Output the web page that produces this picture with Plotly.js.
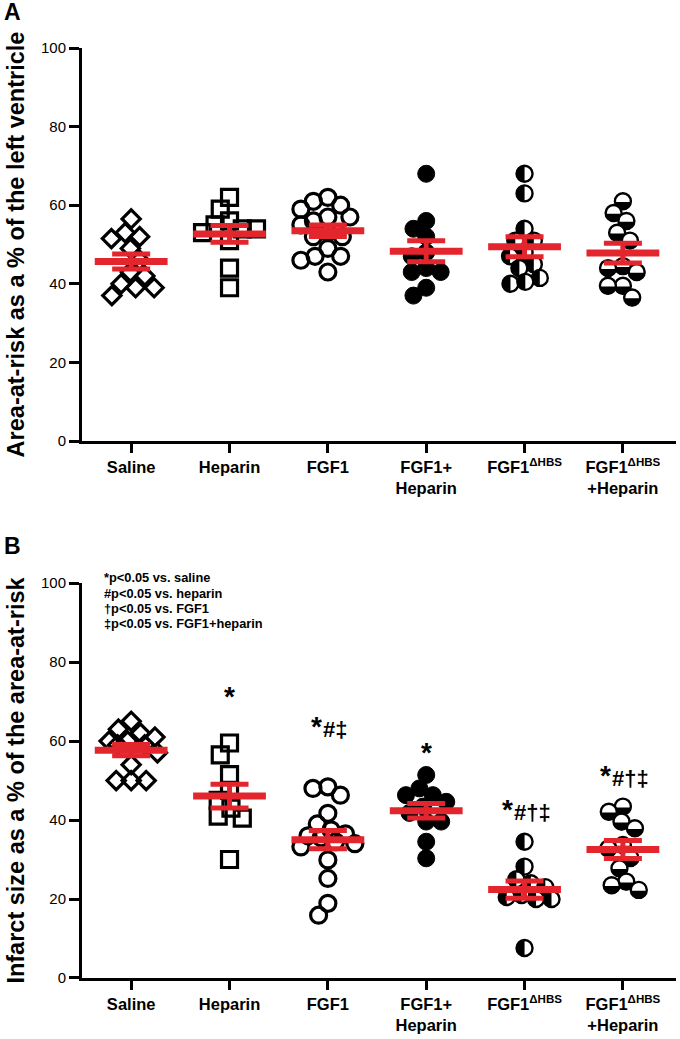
<!DOCTYPE html>
<html><head><meta charset="utf-8">
<script src="https://cdn.plot.ly/plotly-3.0.1.min.js"></script>
<style>html,body{margin:0;padding:0;background:#fff}#chart{width:680px;height:1039px}</style>
</head><body><div id="chart"></div>
<script>
const categories = ['Saline','Heparin','FGF1','FGF1+<br>Heparin','FGF1<sup>ΔHBS</sup>','FGF1<sup>ΔHBS</sup><br>+Heparin'];
const yTicks = [0,20,40,60,80,100];

// Panel A: area-at-risk (% of LV)
const areaSaline  = [56.5, 53, 52, 51.5, 49, 46, 43, 42, 40, 39, 39, 37];
const areaHeparin = [62, 59, 56, 55, 54, 54, 53, 51, 44, 39];
const areaFGF1    = [62, 61, 60, 59, 57, 57, 56, 55, 53, 52, 52, 49, 47, 47, 46, 43];
const areaFGF1Hep = [68, 56, 54, 52, 48, 47, 44, 43, 43, 39, 37];
const areaDHBS    = [68, 63, 54, 51, 51, 48, 47, 45, 44, 41.5, 40, 40.5];
const areaDHBSHep = [61, 58, 56, 53, 51, 44.5, 44, 43, 39.5, 39.5, 36.5];

// Panel B: infarct size (% of area-at-risk)
const infSaline  = [65, 63, 62, 61, 60, 60, 59, 59, 57, 54, 50, 50, 50];
const infHeparin = [59.5, 56.5, 51.5, 47.5, 45, 43, 41, 40.5, 30];
const infFGF1    = [48.4, 48, 46.3, 41.7, 39, 37.5, 36.5, 36, 35.5, 34.5, 34, 33.2, 29.9, 25.2, 18.9, 15.9];
const infFGF1Hep = [51.4, 48, 46.3, 46.3, 44.6, 43.4, 41.8, 39.6, 39.6, 34.5, 30.3];
const infDHBS    = [34.5, 28.2, 25, 24, 23, 21, 20.5, 20, 20, 7.6];
const infDHBSHep = [43.4, 42.1, 39.6, 37.9, 33.7, 32.8, 30.4, 27.8, 24.4, 23.5, 22.3];

// significance marks (panel B): star, then other symbols
const sigStar = ['', '*', '*', '*', '*', '*'];
const sigRest = ['', '', '#‡', '', '#†‡', '#†‡'];
const sigY    = [null, 73.4, 63.0, 59.0, 42.0, 50.6];
const legendLines = ['*p&lt;0.05 vs. saline', '#p&lt;0.05 vs. heparin', '†p&lt;0.05 vs. FGF1', '‡p&lt;0.05 vs. FGF1+heparin'];

const groupsA = [areaSaline, areaHeparin, areaFGF1, areaFGF1Hep, areaDHBS, areaDHBSHep];
const groupsB = [infSaline, infHeparin, infFGF1, infFGF1Hep, infDHBS, infDHBSHep];

const RED = '#e3262d';
const FONT = 'Liberation Sans, Arial, Helvetica, sans-serif';
const PX_X = 98.4;     // px per category
const PX_Y = 3.93;     // px per y unit
const styles = [
  {symbol:'diamond-open', size:14, color:'#000', line:{color:'#000', width:3.2}},
  {symbol:'square-open', size:16, color:'#000', line:{color:'#000', width:3.2}},
  {symbol:'circle-open', size:16, color:'#000', line:{color:'#000', width:3.2}},
  {symbol:'circle', size:17, color:'#000', line:{color:'#000', width:1}},
  {symbol:'circle', size:16, color:'rgb(255,255,254)', line:{color:'#000', width:2.4}},
  {symbol:'circle', size:16, color:'rgb(254,255,255)', line:{color:'#000', width:2.4}}
];

// deterministic beeswarm in pixel space, limited spread (points may overlap like the original)
function swarm(vals, D, maxOff) {
  const order = vals.map((v,i)=>i).sort((a,b)=>vals[b]-vals[a]);
  const placed = []; const off = new Array(vals.length);
  for (const i of order) {
    const y = vals[i]*PX_Y;
    const cands = [0];
    for (const p of placed) {
      const dy = Math.abs(p.y - y);
      if (dy < D) { const dx = Math.sqrt(D*D - dy*dy); cands.push(p.x+dx, p.x-dx); }
    }
    for (let s = -maxOff; s <= maxOff; s += maxOff/4) cands.push(s);
    const ok = cands.filter(c => Math.abs(c) <= maxOff + 1e-6);
    ok.sort((a,b)=>Math.abs(a)-Math.abs(b) || a-b);
    let best = null;
    for (const c of ok) {
      if (placed.every(p => (p.x-c)*(p.x-c) + (p.y-y)*(p.y-y) >= D*D - 1e-6)) { best = c; break; }
    }
    if (best === null) {
      let bd = -1;
      for (const c of ok) {
        const md = Math.min(...placed.map(p => Math.hypot(p.x-c, p.y-y)));
        if (md > bd + 1e-6) { bd = md; best = c; }
      }
    }
    placed.push({x:best, y}); off[i] = best;
  }
  return off;
}
function mean(a){return a.reduce((s,v)=>s+v,0)/a.length;}
function sem(a){const m=mean(a);const v=a.reduce((s,x)=>s+(x-m)*(x-m),0)/(a.length-1);return Math.sqrt(v/a.length);}

const traces = [];
function addPanel(groups, xa, ya) {
  groups.forEach((g, k) => {
    const off = swarm(g, 15, 27);
    traces.push({type:'scatter', mode:'markers', xaxis:xa, yaxis:ya, hoverinfo:'skip',
      x: g.map((v,i)=>k + off[i]/PX_X), y: g, marker: styles[k], cliponaxis:false});
  });
  traces.push({type:'scatter', mode:'markers', xaxis:xa, yaxis:ya, hoverinfo:'skip', cliponaxis:false,
    x: groups.map((g,k)=>k), y: groups.map(mean),
    marker:{symbol:'line-ew', size:52, color:RED, line:{color:RED, width:7}},
    error_y:{type:'data', array: groups.map(sem), visible:true, color:RED, thickness:5, width:19}});
}
addPanel(groupsA, 'x', 'y');
addPanel(groupsB, 'x2', 'y2');

const xBase = {range:[-0.5,5.54], tickvals:[0,1,2,3,4,5], ticktext:categories, ticks:'outside', ticklen:9, tickwidth:3,
  tickcolor:'#000', showline:true, linewidth:3, linecolor:'#000', showgrid:false, zeroline:false,
  tickfont:{family:FONT, size:16.5, weight:'bold', color:'#000'}, fixedrange:true};
const yBase = {range:[0,100], tickvals:yTicks, ticks:'outside', ticklen:10, tickwidth:3, tickcolor:'#000',
  showline:true, linewidth:3, linecolor:'#000', showgrid:false, zeroline:false,
  tickfont:{family:FONT, size:15, color:'#000'}, fixedrange:true};

const annotations = [
  {xref:'paper', yref:'paper', x:-0.135, y:1.055, xanchor:'left', yanchor:'top', text:'A', showarrow:false, font:{family:FONT, size:23, weight:'bold', color:'#000'}},
  {xref:'paper', yref:'paper', x:-0.135, y:0.481, xanchor:'left', yanchor:'top', text:'B', showarrow:false, font:{family:FONT, size:23, weight:'bold', color:'#000'}}
];
legendLines.forEach((t,i)=>{
  annotations.push({xref:'paper', yref:'paper', x:0.033, y:(978-578-i*15.3)/930, xanchor:'left', yanchor:'middle', align:'left',
    showarrow:false, text:t, font:{family:FONT, size:12.8, weight:'bold', color:'#000'}});
});
const STAR_W = 13, CH_W = 11.5;
sigStar.forEach((s,k)=>{
  if(!s) return;
  const rest = sigRest[k];
  const restW = [...rest].length * CH_W;
  const total = STAR_W + restW;
  const starCenter = rest ? -total/2 + STAR_W/2 : 0;
  annotations.push({xref:'x2', yref:'y2', x:k, y:sigY[k], showarrow:false, xanchor:'center', yanchor:'middle',
    xshift: starCenter, yshift: rest ? 3 : -8, text:'*',
    font:{family:FONT, size:28, weight:'bold', color:'#000'}});
  if (rest) annotations.push({xref:'x2', yref:'y2', x:k, y:sigY[k], showarrow:false, xanchor:'left', yanchor:'middle',
    xshift: -total/2 + STAR_W - 2, text: rest,
    font:{family:FONT, size:22, weight:'bold', color:'#000'}});
});

const layout = {
  width:680, height:1039, margin:{l:82, r:4, t:48, b:61}, showlegend:false,
  paper_bgcolor:'#fff', plot_bgcolor:'#fff', font:{family:FONT, color:'#000'},
  xaxis: Object.assign({}, xBase, {anchor:'y', domain:[0,1]}),
  yaxis: Object.assign({}, yBase, {anchor:'x', domain:[0.5774,1],
    title:{text:'Area-at-risk as a % of the left ventricle', standoff:10, font:{family:FONT, size:23.5, weight:'bold', color:'#000'}}}),
  xaxis2: Object.assign({}, xBase, {anchor:'y2', domain:[0,1]}),
  yaxis2: Object.assign({}, yBase, {anchor:'x2', domain:[0,0.4247],
    title:{text:'Infarct size as a % of the area-at-risk', standoff:10, font:{family:FONT, size:23.5, weight:'bold', color:'#000'}}}),
  annotations
};

Plotly.newPlot('chart', traces, layout, {staticPlot:true, displayModeBar:false}).then(()=>{
  const NS = 'http://www.w3.org/2000/svg';
  document.querySelectorAll('.scatterlayer .points path').forEach(p=>{
    const st = p.getAttribute('style') || '';
    let d = null;
    if (st.indexOf('rgb(255, 255, 254)') >= 0) d = 'M0,-8A8,8 0 0 0 0,8Z';
    else if (st.indexOf('rgb(254, 255, 255)') >= 0) d = 'M-8,0.8A8,8 0 0 0 8,0.8Z';
    if (!d) return;
    const h = document.createElementNS(NS, 'path');
    h.setAttribute('d', d);
    h.setAttribute('transform', p.getAttribute('transform'));
    h.setAttribute('style', 'fill:#000;stroke:none');
    p.parentNode.insertBefore(h, p.nextSibling);
  });
});
</script>
</body></html>
